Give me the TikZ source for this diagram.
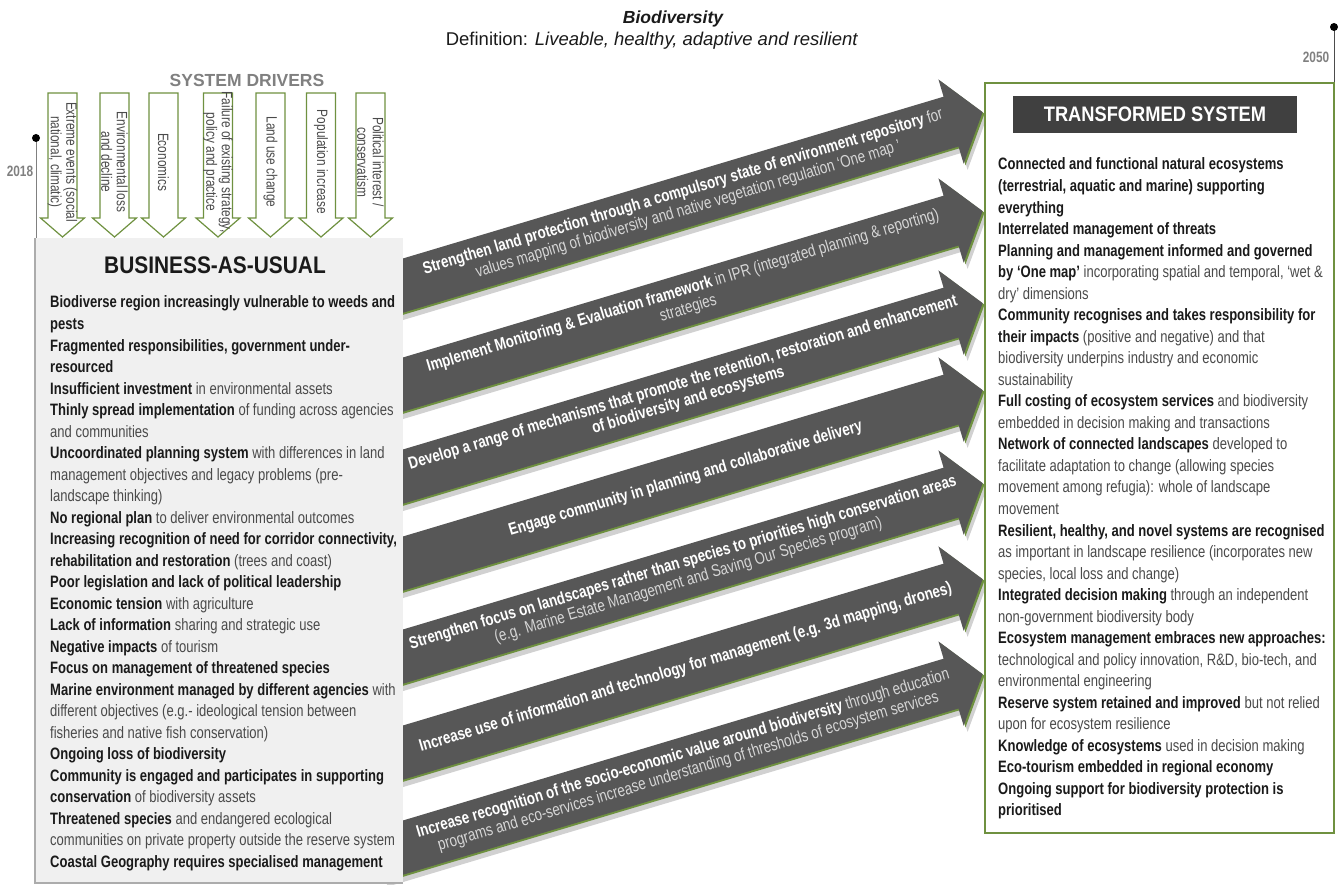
\documentclass[tikz,border=0pt]{standalone}
\usepackage{fontspec}
\setmainfont{Liberation Sans}
\newfontfamily\nf{Liberation Sans}[FakeStretch=0.79]
\newfontfamily\nfb{Liberation Sans}[FakeStretch=0.87]
\definecolor{arrowc}{HTML}{575757}
\definecolor{greenc}{HTML}{6F9140}
\definecolor{darkbox}{HTML}{404040}
\definecolor{boxfill}{HTML}{F0F0F0}
\definecolor{txtgray}{HTML}{4A4A4A}
\definecolor{bcol}{HTML}{1A1A1A}
\definecolor{lightc}{HTML}{D6D6D6}
\definecolor{headgray}{HTML}{808080}
\newcommand\kb[1]{{\bfseries\color{bcol}#1}}
\newcommand\wb[1]{{\bfseries\color{white}#1}}
\tikzset{
  bodytxt/.style={anchor=base west, inner sep=0pt, text=txtgray, font=\nf\fontsize{16.5}{20}\selectfont},
  drvtxt/.style={rotate=-90, align=center, text=txtgray, font=\nf\fontsize{15}{15.5}\selectfont, inner sep=0pt},
  arrtxt/.style={rotate=16.66, align=center, text=lightc, font=\nf\fontsize{17}{18.5}\selectfont, inner sep=0pt},
  drvarrow/.style={draw=greenc, line width=1.2pt, fill=white},
  yeartxt/.style={text=headgray, font=\nf\bfseries\fontsize{15}{15}\selectfont},
}
\newcommand\blockarrow[3]{%
\begin{scope}[shift={(405,#2)}, rotate=16.66]
  \fill[black!18, shift={(2,7)}] (-30,-26) -- (570,-26) -- (570,-44) -- (603,0) -- (570,44) -- (570,26) -- (-30,26) -- cycle;
  \fill[greenc, shift={(1.3,2)}] (-30,-26) -- (570,-26) -- (570,-44) -- (603,0) -- (570,44) -- (570,26) -- (-30,26) -- cycle;
  \fill[arrowc] (-30,-26) -- (570,-26) -- (570,-44) -- (603,0) -- (570,44) -- (570,26) -- (-30,26) -- cycle;
  \node[arrtxt] (#1) at (293,0) {#3};
\end{scope}}
\begin{document}
\begin{tikzpicture}[x=1pt,y=-1pt]
\useasboundingbox (0,0) rectangle (1338,885);
% titles
\node[font=\bfseries\itshape\fontsize{17.5}{20}\selectfont, text=bcol] (bio) at (673,19) {Biodiversity};
\node[font=\fontsize{18.5}{22}\selectfont, text=bcol] (def) at (652,41) {Definition: \textit{Liveable, healthy, adaptive and resilient}};
% timeline 2018
\coordinate (t18) at (36,138);
\coordinate (b18) at (36,238);
\draw[gray, line width=1pt] (t18) -- (b18);
\fill[black] (t18) circle (4pt);
\node[yeartxt] (y18) at (20,171) {2018};
% timeline 2050
\coordinate (t50) at (1334,27);
\coordinate (b50) at (1334,83);
\draw[black!70, line width=1pt] (t50) -- (b50);
\fill[black] (t50) circle (4pt);
\node[yeartxt] (y50) at (1316,57) {2050};
% system drivers
\node[font=\bfseries\fontsize{17.5}{20}\selectfont, text=headgray] (sd) at (247,80) {SYSTEM DRIVERS};
\foreach \cx/\txt [count=\i] in {62.5/{Extreme events (social\\national, climatic)}, 114.5/{Environmental loss\\and decline}, 163.5/{Economics}, 218/{Failure of existing strategy,\\policy and practice}, 270.5/{Land use change}, 321/{Population increase}, 370.5/{Political interest /\\conservatism}}{
  \draw[drvarrow] ({\cx-14.5},93) -- ({\cx+14.5},93) -- ({\cx+14.5},218) -- ({\cx+22},218) -- (\cx,237) -- ({\cx-22},218) -- ({\cx-14.5},218) -- cycle;
  \node[drvtxt] (D\i) at (\cx,162) {\txt};
}
% strategy arrows
\blockarrow{a1}{285}{\wb{Strengthen land protection through a compulsory state of environment repository} for\\values mapping of biodiversity and native vegetation regulation ‘One map ’}
\blockarrow{a2}{384}{\wb{Implement Monitoring \& Evaluation framework} in IPR (integrated planning \& reporting)\\strategies}
\blockarrow{a3}{476}{\wb{Develop a range of mechanisms that promote the retention, restoration and enhancement}\\\wb{of biodiversity and ecosystems}}
\blockarrow{a4}{563}{\wb{Engage community in planning and collaborative delivery}}
\blockarrow{a5}{656}{\wb{Strengthen focus on landscapes rather than species to priorities high conservation areas}\\(e.g. Marine Estate Management and Saving Our Species program)}
\blockarrow{a6}{752}{\wb{Increase use of information and technology for management (e.g. 3d mapping, drones)}}
\blockarrow{a7}{847}{\wb{Increase recognition of the socio-economic value around biodiversity} through education\\programs and eco-services increase understanding of thresholds of ecosystem services}
% business as usual box
\fill[boxfill] (35,238) rectangle (403,883);
\draw[gray!65, line width=1.5pt] (35,238) -- (35,883) -- (403,883);
\node[font=\nfb\bfseries\fontsize{24}{24}\selectfont, text=bcol] (bau) at (215,265) {BUSINESS-AS-USUAL};
\foreach \t [count=\i] in {
{\kb{Biodiverse region increasingly vulnerable to weeds and}},
{\kb{pests}},
{\kb{Fragmented responsibilities, government under-}},
{\kb{resourced}},
{\kb{Insufficient investment} in environmental assets},
{\kb{Thinly spread implementation} of funding across agencies},
{and communities},
{\kb{Uncoordinated planning system} with differences in land},
{management objectives and legacy problems (pre-},
{landscape thinking)},
{\kb{No regional plan} to deliver environmental outcomes},
{\kb{Increasing recognition of need for corridor connectivity,}},
{\kb{rehabilitation and restoration} (trees and coast)},
{\kb{Poor legislation and lack of political leadership}},
{\kb{Economic tension} with agriculture},
{\kb{Lack of information} sharing and strategic use},
{\kb{Negative impacts} of tourism},
{\kb{Focus on management of threatened species}},
{\kb{Marine environment managed by different agencies} with},
{different objectives (e.g.- ideological tension between},
{fisheries and native fish conservation)},
{\kb{Ongoing loss of biodiversity}},
{\kb{Community is engaged and participates in supporting}},
{\kb{conservation} of biodiversity assets},
{\kb{Threatened species} and endangered ecological},
{communities on private property outside the reserve system},
{\kb{Coastal Geography requires specialised management}}}{
  \node[bodytxt] (L\i) at (50,{308+21.5*(\i-1)}) {\t};
}
% transformed system box
\draw[greenc, line width=1.5pt, fill=white] (985,83) rectangle (1334,833);
\node[fill=darkbox, minimum width=284pt, minimum height=37pt, inner sep=0pt, text=white, font=\nfb\bfseries\fontsize{21}{21}\selectfont] (ts) at (1155,114.5) {TRANSFORMED SYSTEM};
\foreach \t [count=\i] in {
{\kb{Connected and functional natural ecosystems}},
{\kb{(terrestrial, aquatic and marine) supporting}},
{\kb{everything}},
{\kb{Interrelated management of threats}},
{\kb{Planning and management informed and governed}},
{\kb{by ‘One map’} incorporating spatial and temporal, ‘wet \&},
{dry’ dimensions},
{\kb{Community recognises and takes responsibility for}},
{\kb{their impacts} (positive and negative) and that},
{biodiversity underpins industry and economic},
{sustainability},
{\kb{Full costing of ecosystem services} and biodiversity},
{embedded in decision making and transactions},
{\kb{Network of connected landscapes} developed to},
{facilitate adaptation to change (allowing species},
{movement among refugia): whole of landscape},
{movement},
{\kb{Resilient, healthy, and novel systems are recognised}},
{as important in landscape resilience (incorporates new},
{species, local loss and change)},
{\kb{Integrated decision making} through an independent},
{non-government biodiversity body},
{\kb{Ecosystem management embraces new approaches:}},
{technological and policy innovation, R\&D, bio-tech, and},
{environmental engineering},
{\kb{Reserve system retained and improved} but not relied},
{upon for ecosystem resilience},
{\kb{Knowledge of ecosystems} used in decision making},
{\kb{Eco-tourism embedded in regional economy}},
{\kb{Ongoing support for biodiversity protection is}},
{\kb{prioritised}}}{
  \node[bodytxt] (R\i) at (998,{170+21.53*(\i-1)}) {\t};
}
\end{tikzpicture}
\end{document}
